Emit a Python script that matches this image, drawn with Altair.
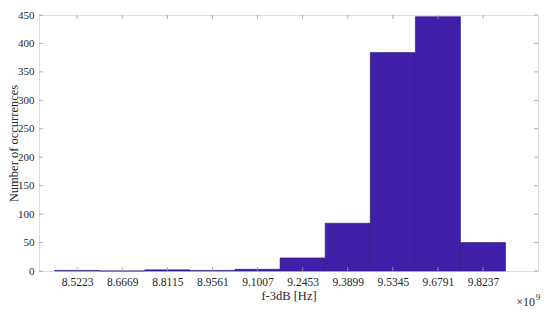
import altair as alt
import pandas as pd

centers = [8.5223, 8.6669, 8.8115, 8.9561, 9.1007, 9.2453, 9.3899, 9.5345, 9.6791, 9.8237]
counts = [1, 0, 2, 1, 3, 23, 84, 384, 447, 50]
tick_labels = ["8.5223", "8.6669", "8.8115", "8.9561", "9.1007", "9.2453", "9.3899", "9.5345", "9.6791", "9.8237"]
y_ticks = [0, 50, 100, 150, 200, 250, 300, 350, 400, 450]

W, H = 499, 256
bw = (centers[-1] - centers[0]) / (len(centers) - 1)
df = pd.DataFrame({
    "c": centers,
    "x0": [c - bw / 2 for c in centers],
    "x1": [c + bw / 2 for c in centers],
    "n": counts,
    "lab": tick_labels,
})
yt = pd.DataFrame({"v": y_ticks})

FONT = "Liberation Serif"
xs = alt.Scale(domain=[8.4, 10.0], nice=False, zero=False)
ys = alt.Scale(domain=[0, 450], nice=False)

label_expr = "format(datum.value, '.4f')"
XT = "f-3dB [Hz]"
YT = "Number of occurrences"

xaxis = alt.Axis(values=centers, labelExpr=label_expr, ticks=False, domain=False,
                 grid=False, labelFont=FONT, labelFontSize=11.5, labelColor="#262626",
                 labelPadding=5, labelOverlap=False, titleFont=FONT, titleFontSize=12.5,
                 titleFontWeight="normal", titleColor="#262626", titlePadding=2)
yaxis = alt.Axis(values=y_ticks, ticks=False, domain=False, grid=False,
                 labelFont=FONT, labelFontSize=11, labelColor="#262626", labelPadding=5,
                 labelOverlap=False, titleFont=FONT, titleFontSize=12.5,
                 titleFontWeight="normal", titleColor="#262626",
                 titleX=-22, titleY=H / 2, titleAngle=270, titleAlign="center",
                 titleBaseline="alphabetic")

bars = alt.Chart(df).mark_rect(color="#4020A8", stroke="#2A1580", strokeWidth=0.6).encode(
    x=alt.X("x0:Q", scale=xs, title=XT, axis=xaxis),
    x2="x1:Q",
    y=alt.Y("n:Q", scale=ys, title=YT, axis=yaxis),
    y2=alt.datum(0),
)

tc = "#9a9a9a"
xt_bot = alt.Chart(df).mark_rule(color=tc, strokeWidth=0.8).encode(
    x=alt.X("c:Q", scale=xs, title=XT, axis=xaxis), y=alt.value(H), y2=alt.value(H - 4))
xt_top = alt.Chart(df).mark_rule(color=tc, strokeWidth=0.8).encode(
    x=alt.X("c:Q", scale=xs, title=XT, axis=xaxis), y=alt.value(0), y2=alt.value(4))
yt_l = alt.Chart(yt).mark_rule(color=tc, strokeWidth=0.8).encode(
    y=alt.Y("v:Q", scale=ys, title=YT, axis=yaxis), x=alt.value(0), x2=alt.value(4))
yt_r = alt.Chart(yt).mark_rule(color=tc, strokeWidth=0.8).encode(
    y=alt.Y("v:Q", scale=ys, title=YT, axis=yaxis), x=alt.value(W), x2=alt.value(W - 4))

mult = alt.Chart(pd.DataFrame({"t": ["×10"]})).mark_text(
    font=FONT, fontSize=12, color="#262626", align="right", baseline="middle").encode(
    text="t:N", x=alt.value(W - 3), y=alt.value(H + 31))
sup = alt.Chart(pd.DataFrame({"t": ["9"]})).mark_text(
    font=FONT, fontSize=8.5, color="#262626", align="left", baseline="middle").encode(
    text="t:N", x=alt.value(W - 2), y=alt.value(H + 26))

chart = alt.layer(bars, xt_bot, xt_top, yt_l, yt_r, mult, sup).properties(
    width=W, height=H,
    autosize=alt.AutoSizeParams(type="none"),
    padding={"left": 31, "top": 7, "right": 4, "bottom": 38},
).configure_view(stroke="#8c8c8c", strokeWidth=0.8).configure(background="white")

chart.save("out.html", embed_options={"renderer": "svg", "actions": False})
